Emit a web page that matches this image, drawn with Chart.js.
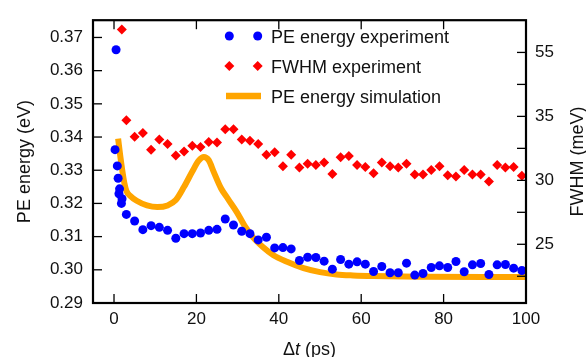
<!DOCTYPE html>
<html>
<head>
<meta charset="utf-8">
<script src="https://cdn.jsdelivr.net/npm/chart.js@4.4.1/dist/chart.umd.min.js"></script>
<style>
  html, body { margin: 0; padding: 0; background: #fff; }
  #wrap { width: 586px; height: 357px; }
</style>
</head>
<body>
<div id="wrap"><canvas id="peChart" width="586" height="357"></canvas></div>
<script>
const FONT = '"Liberation Sans", Arial, Helvetica, sans-serif';

// PE energy experiment (eV)
const peTimes = [0.25, 0.5, 0.8, 1.0, 1.2, 1.35, 1.8, 1.95, 3, 5, 7, 9, 11, 13, 15, 17, 19, 21, 23, 25, 27, 29, 31, 33, 35, 37, 39, 41, 43, 45, 47,
  49, 51, 53, 55, 57, 59, 61, 63, 65, 67, 69, 71, 73, 75, 77, 79, 81, 83, 85, 87, 89, 91, 93, 95, 97, 99];
const peEnergy = [0.3362, 0.3663, 0.3313, 0.3276, 0.3229, 0.3244, 0.3200, 0.3214, 0.3167, 0.3147, 0.3121, 0.3133, 0.3128, 0.3119, 0.3095,
  0.3109, 0.3109, 0.3111, 0.3119, 0.3122, 0.3153, 0.3135, 0.3116, 0.3109, 0.3090, 0.3098, 0.3066, 0.3067, 0.3063, 0.3028, 0.3038,
  0.3037, 0.3026, 0.3002, 0.3031, 0.3017, 0.3024, 0.3017, 0.2995, 0.3010, 0.2991, 0.2991, 0.3020, 0.2984, 0.2989, 0.3007, 0.3012,
  0.3007, 0.3025, 0.2994, 0.3015, 0.3019, 0.2986, 0.3015, 0.3016, 0.3005, 0.2998];

// FWHM experiment (meV, as placed on the right axis)
const fwhmTimes = [1.9, 3, 5, 7, 9, 11, 13, 15, 17, 19, 21, 23, 25, 27, 29, 31, 33, 35, 37, 39, 41, 43, 45, 47,
  49, 51, 53, 55, 57, 59, 61, 63, 65, 67, 69, 71, 73, 75, 77, 79, 81, 83, 85, 87, 89, 91, 93, 95, 97, 99];
const fwhmValues = [41.8, 34.7, 33.4, 33.7, 32.4, 33.2, 32.85, 31.95, 32.25, 32.7, 32.6, 33.0, 32.95, 34.0, 34.0, 33.2, 33.1, 32.85,
  32.0, 32.2, 31.1, 32.0, 31.0, 31.3, 31.2, 31.4, 30.5, 31.8, 31.9, 31.2, 31.05, 30.55, 31.4, 31.1, 31.0, 31.3, 30.45, 30.45,
  30.8, 31.1, 30.4, 30.3, 30.8, 30.45, 30.45, 29.9, 31.2, 31.0, 31.05, 30.35];

// PE energy simulation (eV)
const simTimes = [1.0, 1.5, 2.0, 2.5, 3.0, 4.0, 5.5, 8, 10.5, 13, 15, 17, 19, 20.5, 21.8, 23, 24.2, 26, 27.7, 29.8, 31.8, 33.8,
  36.2, 38.7, 42, 46, 50, 54, 58, 63, 75, 90, 100];
const simEnergy = [0.3395, 0.3345, 0.3300, 0.3262, 0.3238, 0.3222, 0.3208, 0.3194, 0.3189, 0.3194, 0.3210, 0.3250, 0.3296, 0.3328,
  0.3340, 0.3330, 0.3295, 0.3245, 0.3213, 0.3174, 0.3131, 0.3097, 0.3068, 0.3044, 0.3024, 0.3005, 0.2993, 0.2986, 0.2983,
  0.2981, 0.2979, 0.2978, 0.2978];

// axes
const xTicks = [0, 20, 40, 60, 80, 100];
const peTicks = [0.29, 0.30, 0.31, 0.32, 0.33, 0.34, 0.35, 0.36, 0.37];
const fwhmTicks = [22.5, 25, 27.5, 30, 32.5, 35, 37.5, 40];
const fwhmTickLabels = ['', '25', '', '30', '', '35', '', '55'];

const BLUE = '#0000ff';
const RED = '#ff0000';
const ORANGE = '#ffa500';

function pts(xs, ys) {
  return xs.map((x, i) => ({ x: x, y: ys[i] }));
}

function line(ctx, x1, y1, x2, y2) {
  ctx.beginPath();
  ctx.moveTo(x1, y1);
  ctx.lineTo(x2, y2);
  ctx.stroke();
}

// frame, inward ticks, titles and legend
const decorPlugin = {
  id: 'decor',
  afterDatasetsDraw(chart) {
    const { ctx, chartArea: a, scales } = chart;
    const len = 9;
    ctx.save();
    ctx.strokeStyle = '#000';
    ctx.lineWidth = 1.3;
    scales.x.ticks.forEach(t => {
      const px = scales.x.getPixelForValue(t.value);
      line(ctx, px, a.bottom, px, a.bottom - len);
      line(ctx, px, a.top, px, a.top + len);
    });
    scales.y.ticks.forEach(t => {
      const py = scales.y.getPixelForValue(t.value);
      line(ctx, a.left, py, a.left + len, py);
    });
    scales.y1.ticks.forEach(t => {
      const py = scales.y1.getPixelForValue(t.value);
      line(ctx, a.right, py, a.right - len, py);
    });
    ctx.lineWidth = 2.2;
    ctx.strokeRect(a.left, a.top, a.right - a.left, a.bottom - a.top);

    // axis titles
    ctx.fillStyle = '#111';
    ctx.textBaseline = 'alphabetic';
    ctx.textAlign = 'center';
    ctx.font = '18px ' + FONT;
    ctx.save();
    ctx.translate(29.5, (a.top + a.bottom) / 2);
    ctx.rotate(-Math.PI / 2);
    ctx.fillText('PE energy (eV)', 0, 0);
    ctx.restore();
    ctx.save();
    ctx.translate(583, (a.top + a.bottom) / 2);
    ctx.rotate(-Math.PI / 2);
    ctx.fillText('FWHM (meV)', 0, 0);
    ctx.restore();

    const parts = [['Δ', '18px '], ['t', 'italic 18px '], [' (ps)', '18px ']];
    let total = 0;
    parts.forEach(p => { ctx.font = p[1] + FONT; total += ctx.measureText(p[0]).width; });
    let tx = (a.left + a.right) / 2 - total / 2;
    ctx.textAlign = 'left';
    parts.forEach(p => {
      ctx.font = p[1] + FONT;
      ctx.fillText(p[0], tx, 355);
      tx += ctx.measureText(p[0]).width;
    });

    // legend
    const ds = chart.data.datasets;
    const rows = [
      { y: 36, ds: ds[1], kind: 'circle' },
      { y: 66, ds: ds[0], kind: 'diamond' },
      { y: 96, ds: ds[2], kind: 'line' }
    ];
    ctx.font = '18px ' + FONT;
    rows.forEach(r => {
      if (r.kind === 'line') {
        ctx.strokeStyle = r.ds.borderColor;
        ctx.lineWidth = 6.5;
        line(ctx, 226, r.y, 261, r.y);
      } else {
        ctx.fillStyle = r.ds.backgroundColor;
        [229.3, 257.7].forEach(mx => {
          ctx.beginPath();
          if (r.kind === 'circle') {
            ctx.arc(mx, r.y, 4.5, 0, Math.PI * 2);
          } else {
            ctx.moveTo(mx, r.y - 5);
            ctx.lineTo(mx + 5, r.y);
            ctx.lineTo(mx, r.y + 5);
            ctx.lineTo(mx - 5, r.y);
            ctx.closePath();
          }
          ctx.fill();
        });
      }
      ctx.fillStyle = '#111';
      ctx.textBaseline = 'alphabetic';
      ctx.fillText(r.ds.label, 271, r.y + 6.5);
    });
    ctx.restore();
  }
};

const tickFont = { family: FONT, size: 17 };
const noGrid = { display: false, drawTicks: false };

new Chart(document.getElementById('peChart'), {
  type: 'scatter',
  data: {
    datasets: [
      {
        label: 'FWHM experiment',
        data: pts(fwhmTimes, fwhmValues),
        yAxisID: 'y1',
        pointStyle: 'rectRot',
        pointRadius: 5,
        backgroundColor: RED,
        borderWidth: 0
      },
      {
        label: 'PE energy experiment',
        data: pts(peTimes, peEnergy),
        yAxisID: 'y',
        pointStyle: 'circle',
        pointRadius: 4.5,
        backgroundColor: BLUE,
        borderWidth: 0
      },
      {
        label: 'PE energy simulation',
        type: 'line',
        data: pts(simTimes, simEnergy),
        yAxisID: 'y',
        borderColor: ORANGE,
        backgroundColor: ORANGE,
        borderWidth: 6,
        pointRadius: 0,
        fill: false,
        cubicInterpolationMode: 'monotone'
      }
    ]
  },
  options: {
    responsive: false,
    devicePixelRatio: 1,
    animation: false,
    layout: { padding: { top: 10, left: 0, right: 0, bottom: 0 } },
    plugins: {
      legend: { display: false },
      tooltip: { enabled: false }
    },
    scales: {
      x: {
        type: 'linear',
        min: -5.1,
        max: 100,
        grid: noGrid,
        border: { display: false },
        afterBuildTicks: s => { s.ticks = xTicks.map(v => ({ value: v })); },
        afterFit: s => { s.height = 54; },
        ticks: { font: tickFont, color: '#111', padding: 6, maxRotation: 0, autoSkip: false }
      },
      y: {
        position: 'left',
        min: 0.29,
        max: 0.3752,
        grid: noGrid,
        border: { display: false },
        afterBuildTicks: s => { s.ticks = peTicks.map(v => ({ value: v })); },
        afterFit: s => { s.width = 93; },
        ticks: { font: tickFont, color: '#111', padding: 10, autoSkip: false, callback: v => v.toFixed(2) }
      },
      y1: {
        position: 'right',
        min: 20.41,
        max: 42.52,
        grid: noGrid,
        border: { display: false },
        afterBuildTicks: s => { s.ticks = fwhmTicks.map(v => ({ value: v })); },
        afterFit: s => { s.width = 60; },
        ticks: {
          font: tickFont, color: '#111', padding: 9, autoSkip: false,
          callback: (v, i) => fwhmTickLabels[fwhmTicks.indexOf(v)] || ''
        }
      }
    }
  },
  plugins: [decorPlugin]
});
</script>
</body>
</html>
